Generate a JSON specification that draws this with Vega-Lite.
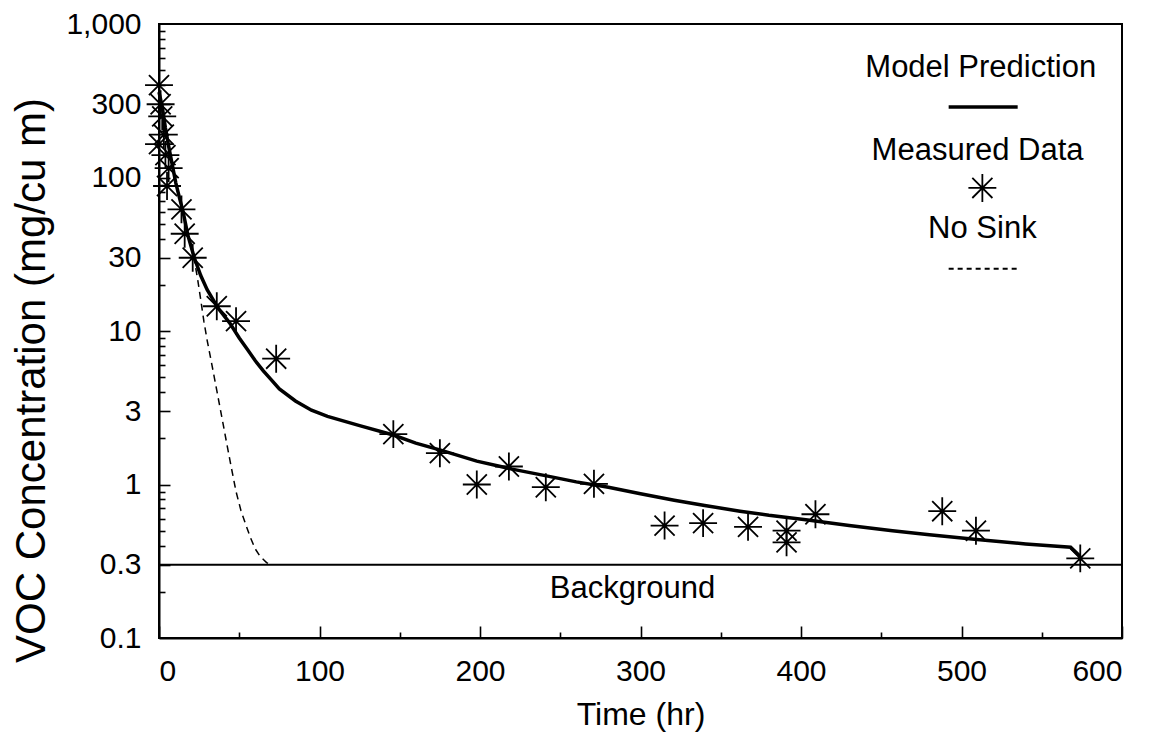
{
  "$schema": "https://vega.github.io/schema/vega-lite/v6.json",
  "width": 963,
  "height": 614,
  "autosize": {"type": "none"},
  "padding": {"left": 159, "top": 24, "right": 43, "bottom": 97},
  "background": "white",
  "config": {
    "font": "Liberation Sans",
    "view": {"stroke": "black", "strokeWidth": 2},
    "axis": {
      "domainColor": "black",
      "domainWidth": 2,
      "tickColor": "black",
      "tickWidth": 1.6,
      "labelColor": "black",
      "titleColor": "black",
      "labelFont": "Liberation Sans",
      "titleFont": "Liberation Sans",
      "titleFontWeight": "normal",
      "grid": false,
      "labelOverlap": false,
      "labelFontSize": 30
    }
  },
  "datasets": {
    "measured": [
      {"t": 0, "c": 400}, {"t": 1, "c": 300}, {"t": 2, "c": 250}, {"t": 0, "c": 165},
      {"t": 3, "c": 190}, {"t": 4, "c": 140}, {"t": 6, "c": 115}, {"t": 5, "c": 88},
      {"t": 14, "c": 62}, {"t": 16, "c": 43}, {"t": 21, "c": 30}, {"t": 36, "c": 14.5},
      {"t": 48, "c": 11.6}, {"t": 73, "c": 6.6}, {"t": 146, "c": 2.13}, {"t": 175, "c": 1.6},
      {"t": 198, "c": 1.0}, {"t": 218, "c": 1.31}, {"t": 241, "c": 0.96}, {"t": 271, "c": 1.01},
      {"t": 315, "c": 0.54}, {"t": 339, "c": 0.56}, {"t": 367, "c": 0.53}, {"t": 391, "c": 0.5},
      {"t": 391, "c": 0.42}, {"t": 409, "c": 0.64}, {"t": 488, "c": 0.67}, {"t": 509, "c": 0.5},
      {"t": 574, "c": 0.33}
    ],
    "model": [
      {"t": 0, "c": 360}, {"t": 2, "c": 290}, {"t": 4, "c": 210}, {"t": 6, "c": 160},
      {"t": 8, "c": 125}, {"t": 10.5, "c": 92}, {"t": 13, "c": 72}, {"t": 15, "c": 60},
      {"t": 18, "c": 42}, {"t": 22, "c": 30}, {"t": 26, "c": 23}, {"t": 30, "c": 18.6},
      {"t": 37, "c": 14}, {"t": 44, "c": 11.3}, {"t": 50, "c": 9}, {"t": 55, "c": 7.6},
      {"t": 60, "c": 6.4}, {"t": 65, "c": 5.5}, {"t": 70, "c": 4.8}, {"t": 75, "c": 4.2},
      {"t": 85, "c": 3.5}, {"t": 95, "c": 3.05}, {"t": 105, "c": 2.78}, {"t": 125, "c": 2.42},
      {"t": 146, "c": 2.1}, {"t": 160, "c": 1.86}, {"t": 176, "c": 1.67}, {"t": 198, "c": 1.42},
      {"t": 220, "c": 1.26}, {"t": 243, "c": 1.13}, {"t": 260, "c": 1.04}, {"t": 280, "c": 0.96},
      {"t": 300, "c": 0.87}, {"t": 321, "c": 0.79}, {"t": 340, "c": 0.73}, {"t": 362, "c": 0.67},
      {"t": 380, "c": 0.63}, {"t": 403, "c": 0.59}, {"t": 430, "c": 0.54}, {"t": 457, "c": 0.5},
      {"t": 480, "c": 0.47}, {"t": 508, "c": 0.44}, {"t": 540, "c": 0.41}, {"t": 568, "c": 0.39},
      {"t": 574, "c": 0.34}
    ],
    "nosink": [
      {"t": 0, "c": 360}, {"t": 2, "c": 290}, {"t": 4, "c": 210}, {"t": 6, "c": 160},
      {"t": 8, "c": 125}, {"t": 10.5, "c": 92}, {"t": 13, "c": 72}, {"t": 15, "c": 60},
      {"t": 18, "c": 42}, {"t": 22, "c": 29}, {"t": 24, "c": 22}, {"t": 26, "c": 16},
      {"t": 28, "c": 11.5}, {"t": 30, "c": 8.7}, {"t": 33, "c": 6}, {"t": 36, "c": 4.1},
      {"t": 39, "c": 2.8}, {"t": 42, "c": 1.9}, {"t": 45, "c": 1.3}, {"t": 48, "c": 0.9},
      {"t": 51, "c": 0.68}, {"t": 54, "c": 0.55}, {"t": 57, "c": 0.45}, {"t": 60, "c": 0.38},
      {"t": 63, "c": 0.34}, {"t": 67, "c": 0.31}, {"t": 70, "c": 0.3}
    ],
    "background": [{"t": 0, "c": 0.3}, {"t": 600, "c": 0.3}],
    "labels": [
      {"t": 512, "c": 517, "label": "Model Prediction"},
      {"t": 510, "c": 149, "label": "Measured Data"},
      {"t": 513, "c": 46, "label": "No Sink"},
      {"t": 295, "c": 0.21, "label": "Background"}
    ],
    "legendSolid": [{"t": 492, "c": 288}, {"t": 535, "c": 288}],
    "legendDashed": [{"t": 492, "c": 25.4}, {"t": 535, "c": 25.4}],
    "legendStar": [{"t": 513, "c": 85.5}]
  },
  "resolve": {"scale": {"x": "shared", "y": "shared"}, "axis": {"x": "independent", "y": "independent"}},
  "layer": [
    {
      "data": {"name": "background"},
      "mark": {"type": "line", "color": "black", "strokeWidth": 2},
      "encoding": {
        "x": {
          "field": "t",
          "type": "quantitative",
          "scale": {"domain": [0, 600], "nice": false, "zero": false},
          "axis": {
            "orient": "bottom",
            "title": "Time (hr)",
            "titleFontSize": 32,
            "titlePadding": 13,
            "values": [0, 100, 200, 300, 400, 500, 600],
            "ticks": false,
            "labelPadding": 18
          }
        },
        "y": {
          "field": "c",
          "type": "quantitative",
          "scale": {"type": "log", "domain": [0.1, 1000], "nice": false},
          "axis": {
            "orient": "left",
            "title": "VOC Concentration (mg/cu m)",
            "titleFontSize": 42,
            "titlePadding": 12,
            "titleY": 356,
            "values": [0.1, 0.3, 1, 3, 10, 30, 100, 300, 1000],
            "format": ",",
            "ticks": false,
            "labelPadding": 18
          }
        }
      }
    },
    {
      "data": {"name": "nosink"},
      "mark": {"type": "line", "color": "black", "strokeWidth": 1.5, "strokeDash": [7, 5]},
      "encoding": {
        "x": {
          "field": "t",
          "type": "quantitative",
          "axis": {
            "orient": "top",
            "offset": -614,
            "labels": false,
            "title": null,
            "domain": false,
            "values": [0, 50, 100, 150, 200, 250, 300, 350, 400, 450, 500, 550, 600],
            "tickSize": {"condition": {"test": "datum.value % 100 === 0", "value": 12}, "value": 6}
          }
        },
        "y": {
          "field": "c",
          "type": "quantitative",
          "axis": {
            "orient": "right",
            "offset": -963,
            "labels": false,
            "title": null,
            "domain": false,
            "values": [0.2, 0.3, 0.4, 0.5, 0.6, 0.7, 0.8, 0.9, 1, 2, 3, 4, 5, 6, 7, 8, 9, 10, 20, 30, 40, 50, 60, 70, 80, 90, 100, 200, 300, 400, 500, 600, 700, 800, 900],
            "tickSize": {"condition": {"test": "indexof([0.3, 1, 3, 10, 30, 100, 300], datum.value) >= 0", "value": 11}, "value": 6}
          }
        }
      }
    },
    {
      "data": {"name": "model"},
      "mark": {"type": "line", "color": "black", "strokeWidth": 3.5},
      "encoding": {
        "x": {"field": "t", "type": "quantitative", "axis": null},
        "y": {"field": "c", "type": "quantitative", "axis": null}
      }
    },
    {
      "data": {"name": "measured"},
      "mark": {"type": "point", "shape": "M0,-1L0,1M-1,0L1,0M-0.72,-0.72L0.72,0.72M-0.72,0.72L0.72,-0.72", "filled": false, "stroke": "black", "strokeWidth": 1.8, "size": 780, "opacity": 1},
      "encoding": {
        "x": {"field": "t", "type": "quantitative", "axis": null},
        "y": {"field": "c", "type": "quantitative", "axis": null}
      }
    },
    {
      "data": {"name": "legendSolid"},
      "mark": {"type": "line", "color": "black", "strokeWidth": 3.5},
      "encoding": {
        "x": {"field": "t", "type": "quantitative", "axis": null},
        "y": {"field": "c", "type": "quantitative", "axis": null}
      }
    },
    {
      "data": {"name": "legendDashed"},
      "mark": {"type": "line", "color": "black", "strokeWidth": 2, "strokeDash": [5, 4]},
      "encoding": {
        "x": {"field": "t", "type": "quantitative", "axis": null},
        "y": {"field": "c", "type": "quantitative", "axis": null}
      }
    },
    {
      "data": {"name": "legendStar"},
      "mark": {"type": "point", "shape": "M0,-1L0,1M-1,0L1,0M-0.72,-0.72L0.72,0.72M-0.72,0.72L0.72,-0.72", "filled": false, "stroke": "black", "strokeWidth": 1.8, "size": 780, "opacity": 1},
      "encoding": {
        "x": {"field": "t", "type": "quantitative", "axis": null},
        "y": {"field": "c", "type": "quantitative", "axis": null}
      }
    },
    {
      "data": {"name": "labels"},
      "mark": {"type": "text", "font": "Liberation Sans", "fontSize": 31, "color": "black", "align": "center", "baseline": "middle"},
      "encoding": {
        "x": {"field": "t", "type": "quantitative", "axis": null},
        "y": {"field": "c", "type": "quantitative", "axis": null},
        "text": {"field": "label"}
      }
    }
  ]
}
